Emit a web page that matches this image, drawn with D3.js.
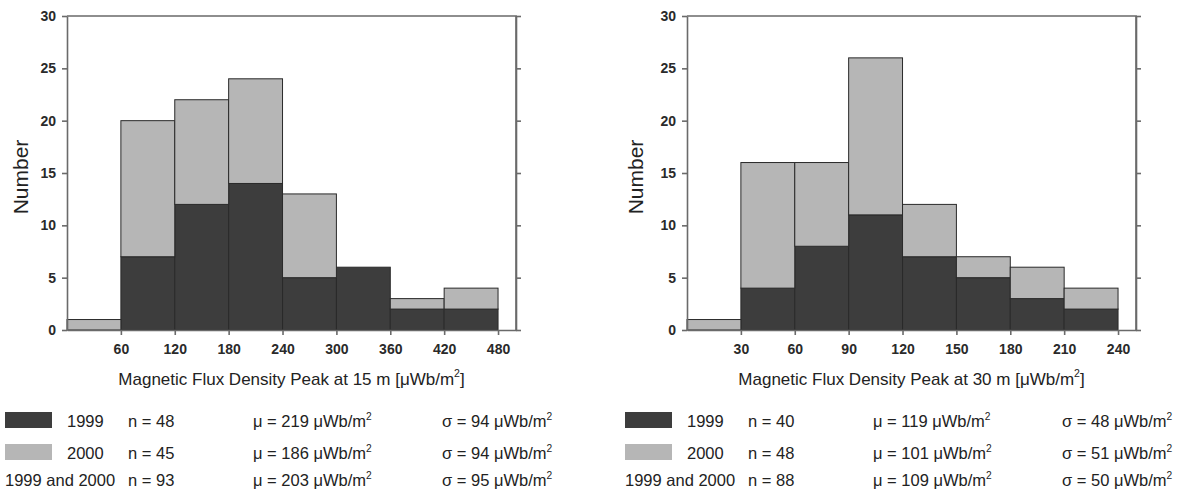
<!DOCTYPE html>
<html>
<head>
<meta charset="utf-8">
<script src="https://cdn.jsdelivr.net/npm/d3@7"></script>
<style>
body { margin: 0; background: #fff; }
svg { font-family: Arial, "Liberation Sans", sans-serif; }
.axis path, .axis line { stroke: #6a6a6a; stroke-width: 1.6; }
.axis text { font-size: 14px; font-weight: bold; fill: #2a2a2a; }
.frame { fill: none; stroke: #6a6a6a; stroke-width: 1.6; }
</style>
</head>
<body>
<div class="chart"></div>
<script>
// === Data ===
// bin edges and counts per year
const edges15 = [0, 60, 120, 180, 240, 300, 360, 420, 480];
const count1999_15 = [0, 7, 12, 14, 5, 6, 2, 2];
const count2000_15 = [1, 13, 10, 10, 8, 0, 1, 2];
const ticks15 = [60, 120, 180, 240, 300, 360, 420, 480];

const edges30 = [0, 30, 60, 90, 120, 150, 180, 210, 240];
const count1999_30 = [0, 4, 8, 11, 7, 5, 3, 2];
const count2000_30 = [1, 12, 8, 15, 5, 2, 3, 2];
const ticks30 = [30, 60, 90, 120, 150, 180, 210, 240];

const yTicks = [0, 5, 10, 15, 20, 25, 30];

// legend stats: rows 1999, 2000, both
const legendLabels = ["1999", "2000", "1999 and 2000"];
const n15 = [48, 45, 93], mean15 = [219, 186, 203], sd15 = [94, 94, 95];
const n30 = [40, 48, 88], mean30 = [119, 101, 109], sd30 = [48, 51, 50];

const colors = ["#3d3d3d", "#b6b6b6"];

const svg = d3.select(".chart").append("svg")
    .attr("width", 1185)
    .attr("height", 490);

// text with a superscript "2" in the middle
function supText(g, x, y, before, after, size) {
    const t = g.append("text")
        .attr("x", x).attr("y", y)
        .attr("font-size", size + "px")
        .attr("fill", "#222");
    t.append("tspan").text(before);
    t.append("tspan").text("2").attr("dy", -size * 0.45).attr("font-size", (size * 0.62) + "px");
    t.append("tspan").text(after).attr("dy", size * 0.45);
    return t;
}

function drawPanel(cfg) {
    const x0 = cfg.left, top = 16, bottom = 330, w = 449;
    const g = svg.append("g");

    const xScale = d3.scaleLinear().domain([0, cfg.xMax]).range([x0, x0 + w]);
    const yScale = d3.scaleLinear().domain([0, 30]).range([bottom, top]);

    const rows = cfg.c1999.map((v, i) => ({ x0: cfg.edges[i], x1: cfg.edges[i] + cfg.binW, a: v, b: cfg.c2000[i] }));
    const stacked = d3.stack().keys(["a", "b"])(rows);

    // frame top + right
    g.append("path")
        .attr("class", "frame")
        .attr("d", `M${x0},${top}H${x0 + w}V${bottom}`);

    // bars
    stacked.forEach((layer, k) => {
        g.selectAll(null)
            .data(layer.filter(d => d[1] > d[0]))
            .enter()
            .append("rect")
            .attr("x", d => xScale(d.data.x0))
            .attr("width", d => xScale(d.data.x1) - xScale(d.data.x0))
            .attr("y", d => yScale(d[1]))
            .attr("height", d => yScale(d[0]) - yScale(d[1]))
            .attr("fill", colors[k])
            .attr("stroke", "#2a2a2a")
            .attr("stroke-width", 1);
    });

    // axes
    g.append("g")
        .attr("class", "axis")
        .attr("transform", `translate(0,${bottom})`)
        .call(d3.axisBottom(xScale).tickValues(cfg.ticks).tickSize(5).tickPadding(9).tickSizeOuter(0));

    g.append("g")
        .attr("class", "axis")
        .attr("transform", `translate(${x0},0)`)
        .call(d3.axisLeft(yScale).tickValues(yTicks).tickSize(5).tickPadding(6).tickSizeOuter(0));

    g.append("g")
        .attr("class", "axis")
        .attr("transform", `translate(${x0 + w},0)`)
        .call(d3.axisRight(yScale).tickValues(yTicks).tickSize(5).tickFormat("").tickSizeOuter(0));

    // titles
    g.append("text")
        .attr("transform", `translate(${cfg.yLabelX},${177}) rotate(-90)`)
        .attr("text-anchor", "middle")
        .attr("font-size", "21px")
        .attr("fill", "#222")
        .text("Number");

    supText(g, x0 + w / 2, 385, `Magnetic Flux Density Peak at ${cfg.depth} m [\u03bcWb/m`, "]", 17)
        .attr("text-anchor", "middle");

    // legend
    const lx = x0 - 62;
    const baselines = [427, 459, 486];
    legendLabels.forEach((lab, i) => {
        const yb = baselines[i];
        if (i < 2) {
            g.append("rect")
                .attr("x", lx).attr("y", yb - 15)
                .attr("width", 47).attr("height", 16)
                .attr("fill", colors[i]);
        }
        g.append("text")
            .attr("x", i < 2 ? lx + 62 : lx)
            .attr("y", yb)
            .attr("font-size", "16.5px")
            .attr("fill", "#222")
            .text(lab);
        g.append("text")
            .attr("x", lx + 123)
            .attr("y", yb)
            .attr("font-size", "16.5px")
            .attr("fill", "#222")
            .text(`n = ${cfg.n[i]}`);
        supText(g, lx + 248, yb, `\u03bc = ${cfg.mean[i]} \u03bcWb/m`, "", 16.5);
        supText(g, lx + 437, yb, `\u03c3 = ${cfg.sd[i]} \u03bcWb/m`, "", 16.5);
    });
}

drawPanel({ left: 67, xMax: 500, edges: edges15, binW: 60, c1999: count1999_15, c2000: count2000_15,
            ticks: ticks15, depth: 15, yLabelX: 28, n: n15, mean: mean15, sd: sd15 });
drawPanel({ left: 687, xMax: 250, edges: edges30, binW: 30, c1999: count1999_30, c2000: count2000_30,
            ticks: ticks30, depth: 30, yLabelX: 643, n: n30, mean: mean30, sd: sd30 });
</script>
</body>
</html>
